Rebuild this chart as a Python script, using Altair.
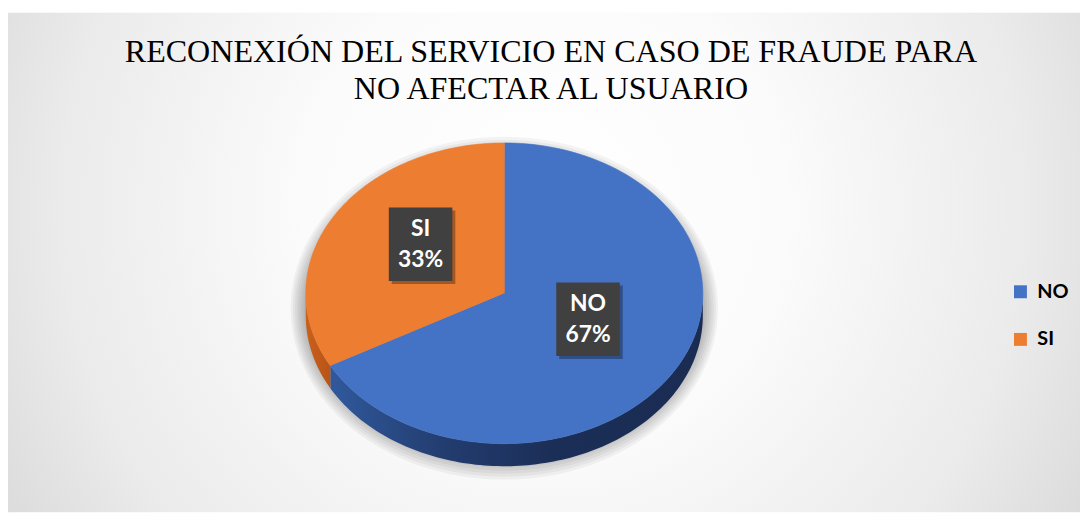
import altair as alt
import pandas as pd

# ---- data ----
labels = ["NO", "SI"]
values = [67, 33]
top_colors = ["#4472C4", "#ED7D31"]
title_lines = ["RECONEXIÓN DEL SERVICIO EN CASO DE FRAUDE PARA", "NO AFECTAR AL USUARIO"]

df = pd.DataFrame({"label": labels, "value": values, "idx": list(range(len(labels)))})

W, H = 1080, 506
N = 120
DEPTH = 0.15

xs = alt.Scale(domain=[-2.5, 2.9], nice=False, zero=False)
ys = alt.Scale(domain=[-1.4554, 1.8845], nice=False, zero=False)

side_fills = [
    {"gradient": "linear", "x1": 0, "y1": 0, "x2": 1, "y2": 0,
     "stops": [{"offset": 0, "color": "#30599c"}, {"offset": 0.3, "color": "#233d70"},
               {"offset": 0.6, "color": "#1b2e57"}, {"offset": 1, "color": "#1a2c52"}]},
    {"gradient": "linear", "x1": 0, "y1": 0, "x2": 1, "y2": 0,
     "stops": [{"offset": 0, "color": "#c9601d"}, {"offset": 1, "color": "#b85416"}]},
]

base = (
    alt.Chart(df)
    .transform_joinaggregate(total="sum(value)")
    .transform_window(cum="sum(value)", sort=[alt.SortField("idx")], frame=[None, 0])
    .transform_calculate(s="(datum.cum - datum.value) / datum.total", e="datum.cum / datum.total")
)

one = alt.Chart(df).transform_aggregate(total="sum(value)")

# background
bg = one.mark_rect(
    fill=alt.Gradient(
        gradient="radial",
        stops=[alt.GradientStop(color="#ffffff", offset=0),
               alt.GradientStop(color="#fbfbfb", offset=0.3),
               alt.GradientStop(color="#ebebeb", offset=0.6),
               alt.GradientStop(color="#c6c6c6", offset=1)],
        x1=0.5, y1=0.45, r1=0, x2=0.5, y2=0.45, r2=0.75,
    )
).encode(x=alt.value(-1), x2=alt.value(W), y=alt.value(3), y2=alt.value(H))

title = one.mark_text(
    text=title_lines, font="Liberation Serif", fontSize=32.3, lineHeight=38,
    align="center", baseline="alphabetic", color="black",
).encode(x=alt.value(547), y=alt.value(52.3))

# soft shadow
shadow = (
    one.transform_calculate(k="sequence(0, 8)")
    .transform_flatten(["k"])
    .transform_calculate(step=f"sequence(0, {N + 1})")
    .transform_flatten(["step"])
    .transform_calculate(
        sc="1.0 + 0.011 * datum.k",
        px=f"datum.sc * sin(2 * PI * datum.step / {N})",
        py=f"(1.0 + 0.02 * datum.k) * cos(2 * PI * datum.step / {N}) - 0.10",
    )
    .mark_line(strokeWidth=0)
    .encode(
        x=alt.X("px:Q", scale=xs, axis=None),
        y=alt.Y("py:Q", scale=ys, axis=None),
        order=alt.Order("step:Q"),
        detail="k:N",
        fill=alt.value("#000000"),
        fillOpacity=alt.value(0.045),
    )
)

legend_layer = alt.Chart(df).mark_point(shape="square", filled=True, size=100, opacity=1).encode(
    x=alt.value(500), y=alt.value(285),
    color=alt.Color(
        "label:N",
        scale=alt.Scale(domain=labels, range=top_colors),
        legend=alt.Legend(
            title=None, orient="none", legendX=1010, legendY=274, symbolType="square",
            symbolSize=170, symbolStrokeWidth=0, labelFont="Lato", labelFontWeight="bold",
            labelFontSize=20, labelColor="black", labelOffset=7, rowPadding=28, padding=0,
        ),
    ),
)

# side walls (front half only)
side = (
    base.transform_calculate(fs="max(datum.s, 0.25)", fe="min(datum.e, 0.75)")
    .transform_filter("datum.fe > datum.fs")
    .transform_calculate(step=f"sequence(0, {2 * N + 2})")
    .transform_flatten(["step"])
    .transform_calculate(
        j=f"datum.step <= {N} ? datum.step : {2 * N + 1} - datum.step",
        t=f"datum.fs + (datum.fe - datum.fs) * datum.j / {N}",
        px="sin(2 * PI * datum.t)",
        py=f"cos(2 * PI * datum.t) - (datum.step > {N} ? {DEPTH} : 0)",
    )
)
side_layers = []
for i, lab in enumerate(labels):
    side_layers.append(
        side.transform_filter(alt.datum.label == lab)
        .mark_line(strokeWidth=0)
        .encode(
            x=alt.X("px:Q", scale=xs, axis=None),
            y=alt.Y("py:Q", scale=ys, axis=None),
            order=alt.Order("step:Q"),
            fill=alt.value(side_fills[i]),
        )
    )

# top faces
top = (
    base.transform_calculate(step=f"sequence(0, {N + 2})")
    .transform_flatten(["step"])
    .transform_calculate(
        t=f"datum.s + (datum.e - datum.s) * min(datum.step, {N}) / {N}",
        px=f"datum.step > {N} ? 0 : sin(2 * PI * datum.t)",
        py=f"datum.step > {N} ? 0 : cos(2 * PI * datum.t)",
    )
)
top_layers = []
for i, lab in enumerate(labels):
    top_layers.append(
        top.transform_filter(alt.datum.label == lab)
        .mark_line(strokeWidth=0.6, stroke=top_colors[i])
        .encode(
            x=alt.X("px:Q", scale=xs, axis=None),
            y=alt.Y("py:Q", scale=ys, axis=None),
            order=alt.Order("step:Q"),
            fill=alt.value(top_colors[i]),
        )
    )

# data labels
lab_base = base.transform_calculate(
    mid="(datum.s + datum.e) / 2",
    lx="0.49 * sin(2 * PI * datum.mid)",
    ly="0.49 * cos(2 * PI * datum.mid) + 0.076",
    txt="[datum.label, format(datum.value / datum.total, '.0%')]",
)
BOX = "M-0.865,-1H0.865V1H-0.865Z"
enc = dict(x=alt.X("lx:Q", scale=xs, axis=None), y=alt.Y("ly:Q", scale=ys, axis=None))
box_shadow = lab_base.mark_point(shape=BOX, size=74 * 74, filled=True, color="#000000",
                                 opacity=0.3, xOffset=3, yOffset=3, strokeWidth=0).encode(**enc)
box = lab_base.mark_point(shape=BOX, size=74 * 74, filled=True, color="#404040",
                          opacity=1, strokeWidth=0).encode(**enc)
txt = lab_base.mark_text(font="Lato", fontWeight="bold", fontSize=23, color="white",
                         lineHeight=31, baseline="middle", align="center", dy=-15).encode(
    text="txt:N", **enc)

chart = alt.layer(
    bg, title, shadow, legend_layer, *side_layers, *top_layers, box_shadow, box, txt
).properties(
    width=W, height=H, padding=0, autosize=alt.AutoSizeParams(type="none")
).configure_view(stroke=None)

chart.save("out.html", embed_options={"renderer": "svg", "actions": False})
